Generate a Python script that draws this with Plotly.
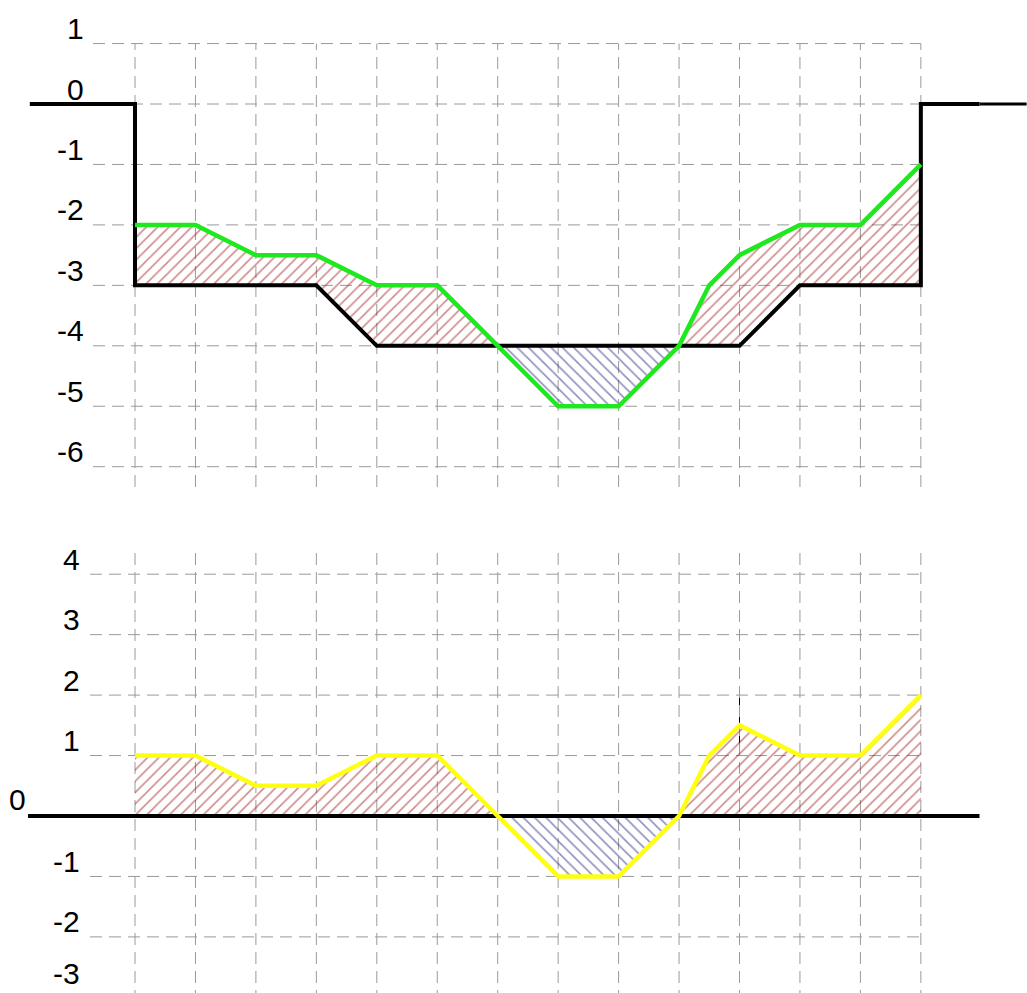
import plotly.graph_objects as go

# ---------------- data ----------------
x_pts = [0, 1, 2, 3, 4, 5, 6, 7, 8, 9, 9.5, 10, 11, 12, 13]
ground = [-2, -2, -2.5, -2.5, -3, -3, -4, -5, -5, -4, -3, -2.5, -2, -2, -1]
design = [-3, -3, -3, -3, -4, -4, -4, -4, -4, -4, -4, -4, -3, -3, -3]

profile_x = [-1.74, 0, 0, 3, 4, 10, 11, 13, 13, 13.97]
profile_y = [0, 0, -3, -3, -4, -4, -3, -3, 0, 0]
profile_ext_x = [13.97, 14.75]
profile_ext_y = [0, 0]

baseline_x = [-1.77, 13.97]
baseline_y = [0, 0]

top_ticks = [1, 0, -1, -2, -3, -4, -5, -6]
bottom_ticks = [4, 3, 2, 1, 0, -1, -2, -3]
grid_cols = list(range(0, 14))

diff = [g - d for g, d in zip(ground, design)]

# ---------------- geometry ----------------
W, H = 1027, 993
PX = 60.45
X0 = 135.0
Y0_TOP = 104.0
Y0_BOT = 816.0

xr = [-X0 / PX, (W - X0) / PX]
yr1 = [(Y0_TOP - H) / PX, Y0_TOP / PX]
yr2 = [(Y0_BOT - H) / PX, Y0_BOT / PX]

GRID = dict(color="#9a9a9a", width=1, dash="12px,7px")
RED = "#a01818"
BLUE = "#22227f"

fig = go.Figure()


def grid_trace(xs_v, y_lo, y_hi, ys_h, x_lo, x_hi, yaxis):
    gx, gy = [], []
    for xv in xs_v:
        gx += [xv, xv, None]
        gy += [y_lo, y_hi, None]
    for yv in ys_h:
        gx += [x_lo, x_hi, None]
        gy += [yv, yv, None]
    fig.add_trace(go.Scatter(x=gx, y=gy, mode="lines", line=GRID,
                             yaxis=yaxis, hoverinfo="skip", showlegend=False))


# top grid
grid_trace(grid_cols, (Y0_TOP - 487) / PX, 1, top_ticks, (93 - X0) / PX, 13, "y")
# bottom grid
grid_trace(grid_cols, (Y0_BOT - 553) / PX, (Y0_BOT - H) / PX - 0.2,
           [t for t in bottom_ticks if t != 0], (90 - X0) / PX, 13, "y2")


def segments(values):
    segs = []
    start = 0
    for i in range(1, len(values)):
        if values[i] == 0 or i == len(values) - 1:
            segs.append((start, i))
            start = i
    return segs


def add_fills(lower, upper, yaxis):
    d = [u - l for u, l in zip(upper, lower)]
    for a, b in segments(d):
        seg = range(a, b + 1)
        s = sum(d[i] for i in seg)
        pos = s > 0
        xs = [x_pts[i] for i in seg]
        fig.add_trace(go.Scatter(x=xs, y=[lower[i] for i in seg], mode="lines",
                                 line=dict(width=0, color="rgba(0,0,0,0)"),
                                 yaxis=yaxis, hoverinfo="skip", showlegend=False))
        fig.add_trace(go.Scatter(
            x=xs, y=[upper[i] for i in seg], mode="lines",
            line=dict(width=0, color="rgba(0,0,0,0)"),
            fill="tonexty", fillcolor="rgba(0,0,0,0)",
            fillpattern=dict(shape="/" if pos else "\\",
                             fgcolor=RED if pos else BLUE,
                             bgcolor="rgba(0,0,0,0)",
                             size=8, solidity=0.2),
            yaxis=yaxis, hoverinfo="skip", showlegend=False))


add_fills(design, ground, "y")
add_fills([0] * len(diff), diff, "y2")

# top lines
fig.add_trace(go.Scatter(x=profile_ext_x, y=profile_ext_y, mode="lines",
                         line=dict(color="black", width=3), yaxis="y",
                         hoverinfo="skip", showlegend=False))
fig.add_trace(go.Scatter(x=profile_x, y=profile_y, mode="lines",
                         line=dict(color="black", width=4), yaxis="y",
                         hoverinfo="skip", showlegend=False))
fig.add_trace(go.Scatter(x=x_pts, y=ground, mode="lines",
                         line=dict(color="#1ee81e", width=4.5), yaxis="y",
                         hoverinfo="skip", showlegend=False))

# bottom lines
fig.add_trace(go.Scatter(x=baseline_x, y=baseline_y, mode="lines",
                         line=dict(color="black", width=4), yaxis="y2",
                         hoverinfo="skip", showlegend=False))
fig.add_trace(go.Scatter(x=x_pts, y=diff, mode="lines",
                         line=dict(color="#ffff10", width=4.5), yaxis="y2",
                         hoverinfo="skip", showlegend=False))

# thin marker line in bottom panel
fig.add_shape(type="line", x0=10, x1=10, y0=1, y1=2, xref="x", yref="y2",
              line=dict(color="black", width=1), layer="below")

# tick labels
FONT = dict(family="Arial, Liberation Sans, sans-serif", size=30, color="black")
for t in top_ticks:
    fig.add_annotation(x=(86 - X0) / PX, y=t, xref="x", yref="y", text=str(t),
                       showarrow=False, xanchor="right", yanchor="middle",
                       yshift=15, font=FONT)
for t in bottom_ticks:
    xr_px = 28 if t == 0 else 82
    ya = t
    shift = 17 if t == 0 else 15
    if t == -3:
        # keep the anchor inside the visible range, raised to stay on screen
        ya = t + 0.35
        shift = 24 - 0.35 * PX
    fig.add_annotation(x=(xr_px - X0) / PX, y=ya, xref="x", yref="y2", text=str(t),
                       showarrow=False, xanchor="right", yanchor="middle",
                       yshift=shift, font=FONT)

fig.update_layout(
    width=W, height=H,
    margin=dict(l=0, r=0, t=0, b=0, pad=0),
    paper_bgcolor="white", plot_bgcolor="white",
    showlegend=False,
    xaxis=dict(range=xr, visible=False, fixedrange=True),
    yaxis=dict(range=yr1, visible=False, fixedrange=True, domain=[0, 1]),
    yaxis2=dict(range=yr2, visible=False, fixedrange=True, overlaying="y"),
)

fig.write_html("out.html", config={"displayModeBar": False},
               post_script="document.body.style.margin='0';document.body.style.overflow='hidden';")
